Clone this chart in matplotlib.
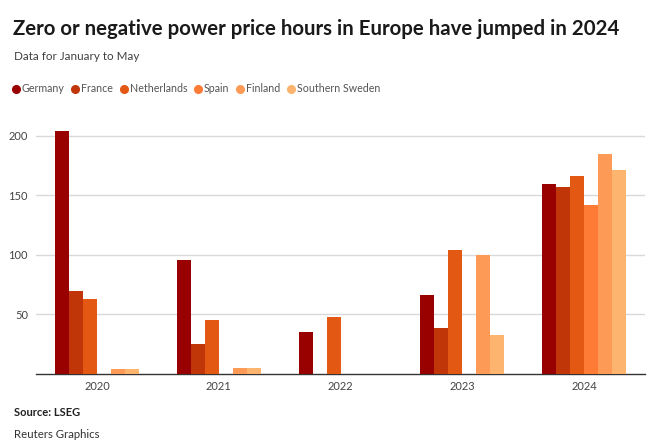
import matplotlib
matplotlib.use("Agg")
import matplotlib.pyplot as plt
from matplotlib.lines import Line2D
import numpy as np

years = ["2020", "2021", "2022", "2023", "2024"]
countries = ["Germany", "France", "Netherlands", "Spain", "Finland", "Southern Sweden"]
germany = [204, 96, 35, 66, 160]
france = [70, 25, 0, 39, 157]
netherlands = [63, 45, 48, 104, 166]
spain = [0, 0, 0, 0, 142]
finland = [4, 5, 0, 100, 185]
sweden = [4, 5, 0, 33, 171]
series = [germany, france, netherlands, spain, finland, sweden]
colors = ["#990000", "#c03608", "#e35812", "#fd7b35", "#fd9b56", "#fdb46e"]
yticks = [50, 100, 150, 200]

plt.rcParams['font.family'] = ['Lato', 'DejaVu Sans']

fig = plt.figure(figsize=(6.58, 4.45), dpi=100)
ax = fig.add_axes([0.055, 1 - 374/445, 0.925, (374 - 124)/445])

n = len(series)
w = 0.115
x = np.arange(len(years))
for i, (vals, c) in enumerate(zip(series, colors)):
    ax.bar(x + (i - (n - 1) / 2) * w, vals, width=w, color=c, zorder=3, linewidth=0)

ax.set_xlim(-0.5, 4.5)
ax.set_ylim(0, 210)
ax.set_yticks(yticks)
ax.set_yticklabels([str(v) for v in yticks], fontsize=8, color="#444444")
ax.set_xticks(x)
ax.set_xticklabels(years, fontsize=8, color="#444444")
ax.tick_params(axis='both', length=0)
ax.tick_params(axis='y', pad=6)
ax.tick_params(axis='x', pad=5)
ax.grid(axis='y', color="#d9d9d9", linewidth=1, zorder=0)
for s in ["top", "right", "left"]:
    ax.spines[s].set_visible(False)
ax.spines["bottom"].set_color("#333333")
ax.spines["bottom"].set_linewidth(1)

fig.text(0.020, 1 - 29/445, "Zero or negative power price hours in Europe have jumped in 2024",
         fontsize=14.7, fontweight='bold', color="#1a1a1a", va='center', ha='left')
fig.text(0.022, 1 - 57/445, "Data for January to May", fontsize=8.4, color="#404040",
         va='center', ha='left')

handles = [Line2D([0], [0], marker='o', linestyle='', markersize=5.5, markerfacecolor=c,
                  markeredgecolor=c) for c in colors]
leg = fig.legend(handles, countries, loc='center left', bbox_to_anchor=(0.017, 1 - 89/445),
                 ncol=6, frameon=False, fontsize=7.7, handletextpad=0.1, columnspacing=0.55,
                 handlelength=0.9, borderaxespad=0, borderpad=0)
for t in leg.get_texts():
    t.set_color("#555555")

fig.text(0.022, 1 - 413/445, "Source: LSEG", fontsize=8, fontweight='bold', color="#222222",
         va='center', ha='left')
fig.text(0.022, 1 - 435/445, "Reuters Graphics", fontsize=8.2, color="#333333",
         va='center', ha='left')

fig.savefig("out.png", dpi=100, facecolor="white")
